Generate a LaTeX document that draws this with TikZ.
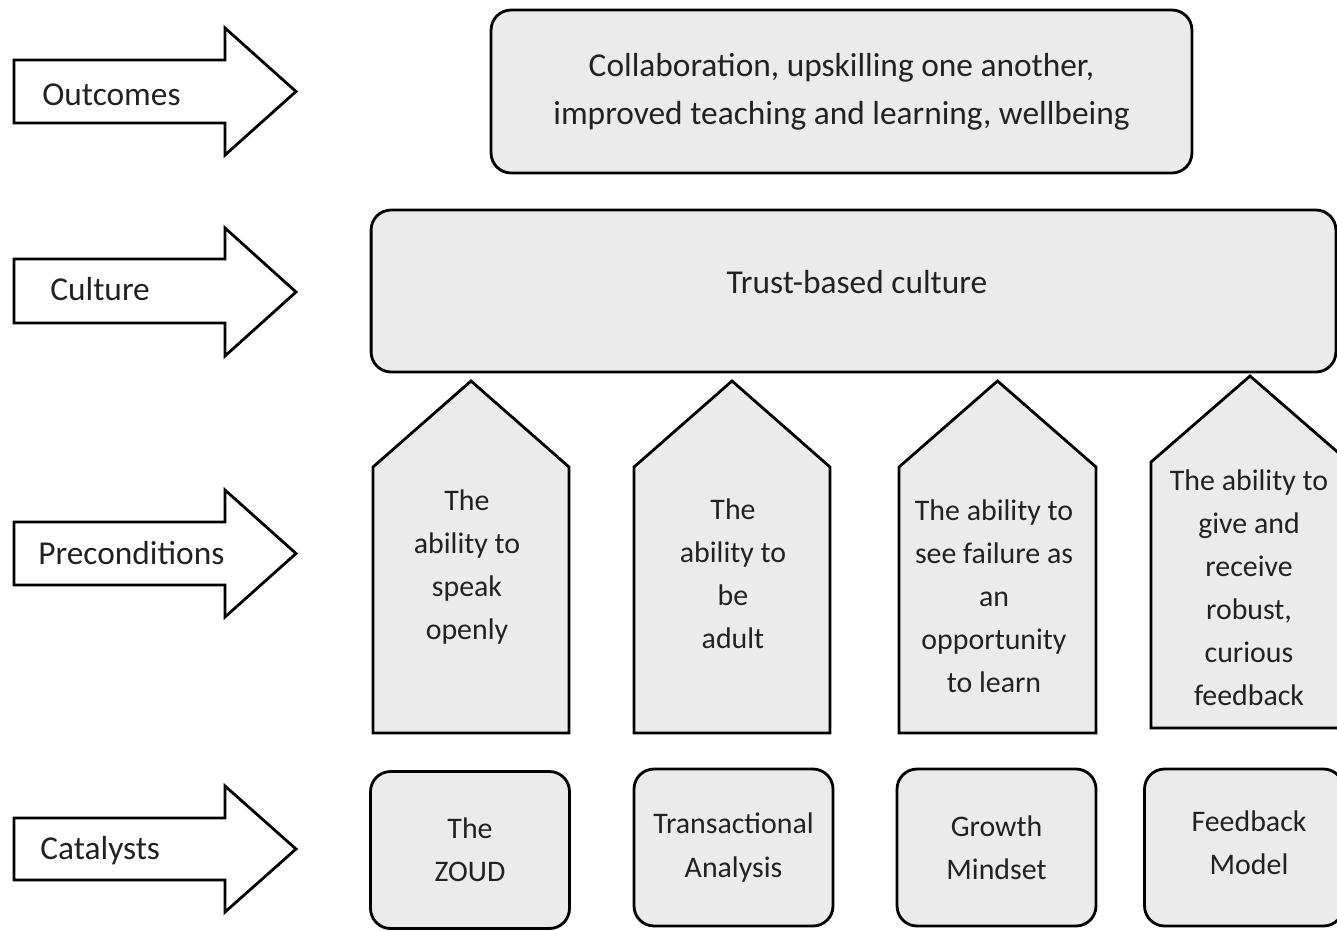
\documentclass[tikz,border=0pt]{standalone}
\usepackage{fontspec}
\setmainfont{Carlito}
\usetikzlibrary{calc}
\definecolor{boxgray}{RGB}{235, 235, 235}
\definecolor{inkgray}{RGB}{34, 34, 34}
\tikzstyle{levelBox} = [shape=rectangle, draw=black, fill=boxgray, line width=1.6pt,
	rounded corners=0.4cm, align=center, text=inkgray]
\tikzstyle{CatalystBox} = [levelBox, minimum width=3.98cm, minimum height=3.14cm]
\tikzstyle{pillarShape} = [draw=black, fill=boxgray, line width=1.6pt, line join=miter]
\tikzstyle{sideArrow} = [draw=black, fill=white, line width=1.6pt, line join=miter]
\tikzstyle{sideText} = [anchor=west, inner sep=0pt, text=inkgray, font=\bigtext]
\tikzstyle{pillarText} = [align=center, inner sep=0pt, text=inkgray]
\newcommand{\bigtext}{\fontsize{19pt}{27.5pt}\selectfont}

\begin{document}
\begin{tikzpicture}[x=0.02cm, y=-0.02cm, font=\fontsize{17pt}{24.5pt}\selectfont]
  \useasboundingbox (0,0) rectangle (1337,930);

  % level arrows on the left
  \draw [sideArrow] (14,60) -- (225,60) -- (225,28) -- (296,91.5) -- (225,155) -- (225,123) -- (14,123) -- cycle;
  \draw [sideArrow] (14,259) -- (225,259) -- (225,228) -- (296,292) -- (225,356) -- (225,323) -- (14,323) -- cycle;
  \draw [sideArrow] (14,522) -- (225,522) -- (225,490) -- (296,553.5) -- (225,617) -- (225,585) -- (14,585) -- cycle;
  \draw [sideArrow] (14,818) -- (225,818) -- (225,786) -- (296,849) -- (225,912) -- (225,880) -- (14,880) -- cycle;
  \node (OUTL) [sideText] at (42,95) {Outcomes};
  \node (CULL) [sideText] at (50,289) {Culture};
  \node (PREL) [sideText] at (38,553) {Preconditions};
  \node (CATL) [sideText] at (40,851) {Catalysts};

  % outcomes and culture
  \node (OUTC) [levelBox, minimum width=14.02cm, minimum height=3.26cm, font=\bigtext] at (841.5,91.5)
    {Collaboration, upskilling one another,\\improved teaching and learning, wellbeing};
  \node (CULT) [levelBox, minimum width=19.3cm, minimum height=3.24cm] at (853.5,291) {};
  \node (CULX) [pillarText, font=\bigtext] at (857,282) {Trust-based culture};

  % preconditions
  \draw [pillarShape] (373,733) -- (373,467) -- (471,381) -- (569,467) -- (569,733) -- cycle;
  \draw [pillarShape] (634,733) -- (634,467) -- (732,381) -- (830,467) -- (830,733) -- cycle;
  \draw [pillarShape] (899,733) -- (899,467) -- (997.5,381) -- (1096,467) -- (1096,733) -- cycle;
  \draw [pillarShape] (1151,728) -- (1151,462) -- (1250,376) -- (1349,462) -- (1349,728) -- cycle;
  \node (SPEAK) [pillarText] at (467,567) {The\\ability to\\speak\\openly};
  \node (ADULT) [pillarText] at (733,574) {The\\ability to\\be\\adult};
  \node (FAIL)  [pillarText] at (994,596) {The ability to\\see failure as\\an\\opportunity\\to learn};
  \node (FEED)  [pillarText] at (1249,588) {The ability to\\give and\\receive\\robust,\\curious\\feedback};

  % catalysts
  \node (ZOUD) [CatalystBox] at (470,850) {The\\ZOUD};
  \node (TRAN) [CatalystBox] at (733.5,847.5) {Transactional\\Analysis};
  \node (GROW) [CatalystBox] at (996.5,847.5) {Growth\\Mindset};
  \node (FBMO) [CatalystBox] at (1244,847.5) {};
  \node (FBMX) [pillarText] at (1249,843) {Feedback\\Model};

\end{tikzpicture}
\end{document}
